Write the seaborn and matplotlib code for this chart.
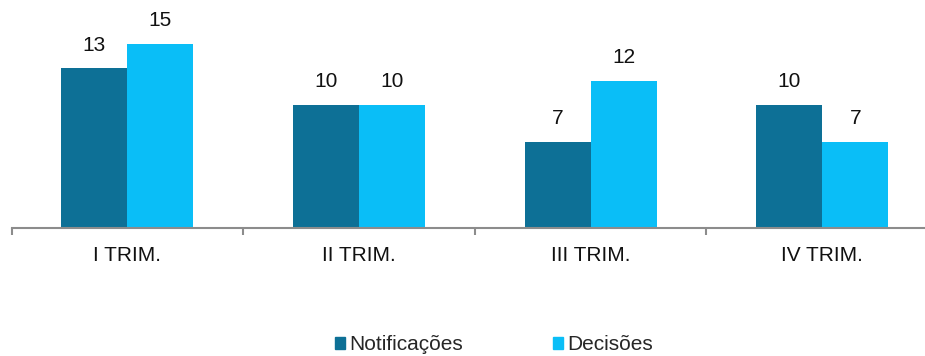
import matplotlib.pyplot as plt
import pandas as pd
import seaborn as sns

QUARTERS = ["I TRIM.", "II TRIM.", "III TRIM.", "IV TRIM."]
NOTIFICACOES = [13, 10, 7, 10]
DECISOES = [15, 10, 12, 7]
SERIES = ["Notificações", "Decisões"]
COLORS = ["#0D7096", "#0ABEF7"]

df = pd.DataFrame({
    "quarter": QUARTERS * 2,
    "value": NOTIFICACOES + DECISOES,
    "series": [SERIES[0]] * 4 + [SERIES[1]] * 4,
})

sns.set_style("white")
plt.rcParams["font.family"] = ["Liberation Sans", "DejaVu Sans"]

fig = plt.figure(figsize=(9.25, 3.56), dpi=100)
ax = fig.add_axes([11.5 / 925, 128 / 356, 926.5 / 925, 228 / 356])

sns.barplot(
    data=df, x="quarter", y="value", hue="series",
    palette=COLORS, width=0.57, saturation=1.0, ax=ax, legend=False,
    linewidth=0,
)

for cont in ax.containers:
    ax.bar_label(cont, padding=10, fontsize=15, color="#111111")

ax.set_xlim(-0.5, 3.5)
ax.set_ylim(0, 18.58)
ax.set_xlabel("")
ax.set_ylabel("")
ax.set_yticks([])

for side in ["top", "right", "left"]:
    ax.spines[side].set_visible(False)
ax.spines["bottom"].set_color("#8C8C8C")
ax.spines["bottom"].set_linewidth(1.5)

ax.set_xticks([-0.5, 0.5, 1.5, 2.5, 3.5])
ax.set_xticklabels([])
ax.tick_params(axis="x", which="major", direction="out", length=5,
               width=1.5, color="#8C8C8C", bottom=True)
ax.set_xticks(range(len(QUARTERS)), minor=True)
ax.set_xticklabels(QUARTERS, minor=True, fontsize=15, color="#111111")
ax.tick_params(axis="x", which="minor", length=0, pad=13)

handles = [plt.Rectangle((0, 0), 1, 1, color=c) for c in COLORS]
fig.legend(
    handles, SERIES, loc="center", bbox_to_anchor=(494 / 925, 1 - 345 / 356),
    ncol=2, frameon=False, fontsize=15, handlelength=0.5, handleheight=0.5,
    handletextpad=0.2, columnspacing=4.3,
)

fig.savefig("out.png", dpi=100)
